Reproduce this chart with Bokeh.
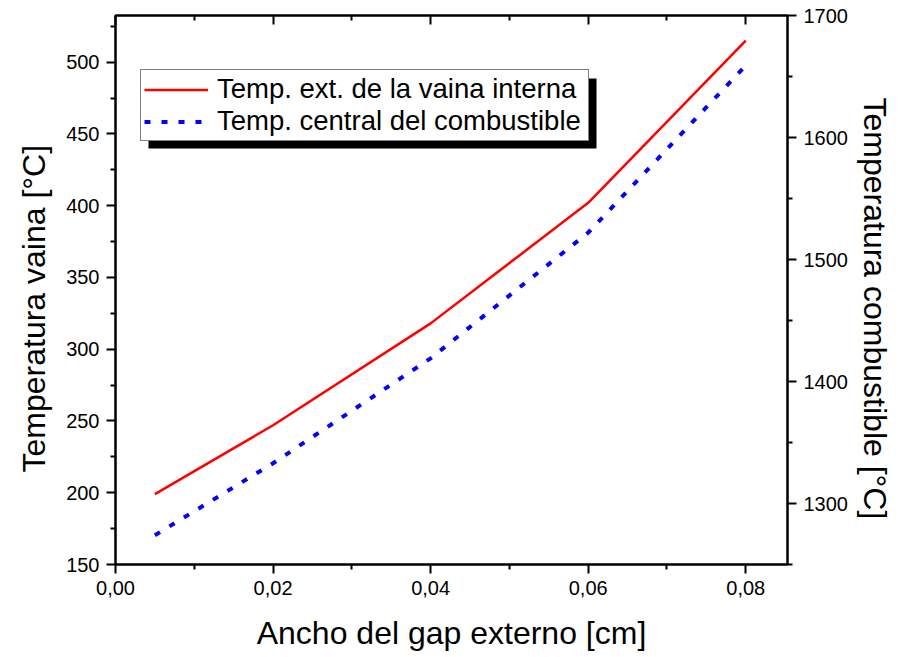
from bokeh.plotting import figure
from bokeh.models import (Range1d, LinearAxis, Legend, LegendItem, BoxAnnotation,
                          CustomJSTickFormatter, FixedTicker, Title)
from bokeh.embed import file_html
from bokeh.resources import INLINE

gap = [0.005, 0.02, 0.04, 0.06, 0.08]
temp_vaina = [199, 247, 318, 402, 515]
temp_combustible = [1274, 1333, 1419, 1522, 1659]
x_ticks = [0.0, 0.02, 0.04, 0.06, 0.08]
left_ticks = [150, 200, 250, 300, 350, 400, 450, 500]
right_ticks = [1300, 1400, 1500, 1600, 1700]

FONT = "Liberation Sans"

p = figure(width=900, height=657, output_backend="svg", toolbar_location=None,
           x_range=Range1d(0.0, 0.0853), y_range=Range1d(150, 532.5),
           min_border_left=115, min_border_right=110, min_border_top=15, min_border_bottom=93)
p.extra_y_ranges = {"right": Range1d(1250, 1700)}
p.xgrid.visible = False
p.ygrid.visible = False
p.outline_line_color = "black"
p.outline_line_width = 2
p.background_fill_color = "white"
p.border_fill_color = "white"

def style_axis(ax):
    ax.axis_line_width = 2
    ax.axis_line_color = "black"
    ax.major_tick_line_width = 2
    ax.minor_tick_line_width = 2
    ax.major_tick_out = 9
    ax.major_tick_in = 0
    ax.minor_tick_out = 5
    ax.minor_tick_in = 0
    ax.major_label_text_font = FONT
    ax.major_label_text_font_size = "20px"
    ax.major_label_text_color = "black"
    ax.major_label_standoff = 7
    ax.axis_label_text_font = FONT
    ax.axis_label_text_font_size = "32px"
    ax.axis_label_text_font_style = "normal"
    ax.axis_label_text_color = "black"

xa = p.xaxis[0]
style_axis(xa)
xa.ticker = FixedTicker(ticks=x_ticks, minor_ticks=[0.01, 0.03, 0.05, 0.07])
xa.formatter = CustomJSTickFormatter(code="return tick.toFixed(2).replace('.', ',');")
xa.axis_label = "Ancho del gap externo [cm]"
xa.axis_label_standoff = 17

ya = p.yaxis[0]
style_axis(ya)
ya.ticker = FixedTicker(ticks=left_ticks, minor_ticks=[175, 225, 275, 325, 375, 425, 475, 525])

ra = LinearAxis(y_range_name="right")
style_axis(ra)
ra.ticker = FixedTicker(ticks=right_ticks, minor_ticks=[1250, 1350, 1450, 1550, 1650])
p.add_layout(ra, "right")

ta = LinearAxis()
style_axis(ta)
ta.ticker = FixedTicker(ticks=x_ticks, minor_ticks=[0.01, 0.03, 0.05, 0.07])
ta.major_tick_out = 0
ta.major_tick_in = 9
ta.minor_tick_out = 0
ta.minor_tick_in = 5
ta.major_label_text_font_size = "0px"
ta.major_label_text_alpha = 0
p.add_layout(ta, "above")

# axis titles, placed like the original (shifted down from the frame centre)
left_title = Title(text="Temperatura vaina [°C]", align="left", offset=92,
                   text_font=FONT, text_font_size="32px", text_font_style="normal",
                   text_color="black", standoff=24, text_line_height=0.8)
right_title = Title(text="Temperatura combustible [°C]", align="left", offset=82,
                    text_font=FONT, text_font_size="32px", text_font_style="normal",
                    text_color="black", standoff=12, text_line_height=0.8)
p.add_layout(left_title, "left")
p.add_layout(right_title, "right")

r1 = p.line(gap, temp_vaina, line_color="#ff0000", line_width=2.5)
r2 = p.line(gap, temp_combustible, line_color="#0000ff", line_width=4,
            line_dash="6 11", y_range_name="right")

shadow = BoxAnnotation(left=33, right=481, top=486, bottom=416,
                       left_units="screen", right_units="screen",
                       top_units="screen", bottom_units="screen",
                       fill_color="black", fill_alpha=1.0, line_alpha=0)
p.add_layout(shadow)

legend = Legend(items=[LegendItem(label="Temp. ext. de la vaina interna", renderers=[r1]),
                       LegendItem(label="Temp. central del combustible", renderers=[r2])],
                location=(25, 423))
legend.label_text_font = FONT
legend.label_text_font_size = "27.5px"
legend.label_text_color = "black"
legend.glyph_width = 64
legend.glyph_height = 31
legend.label_height = 31
legend.label_width = 368
legend.label_standoff = 9
legend.padding = 3
legend.spacing = 0
legend.margin = 0
legend.border_line_color = "black"
legend.border_line_width = 1
legend.background_fill_color = "white"
legend.background_fill_alpha = 1.0
p.add_layout(legend, "center")

open("out.html", "w").write(file_html(p, INLINE))
